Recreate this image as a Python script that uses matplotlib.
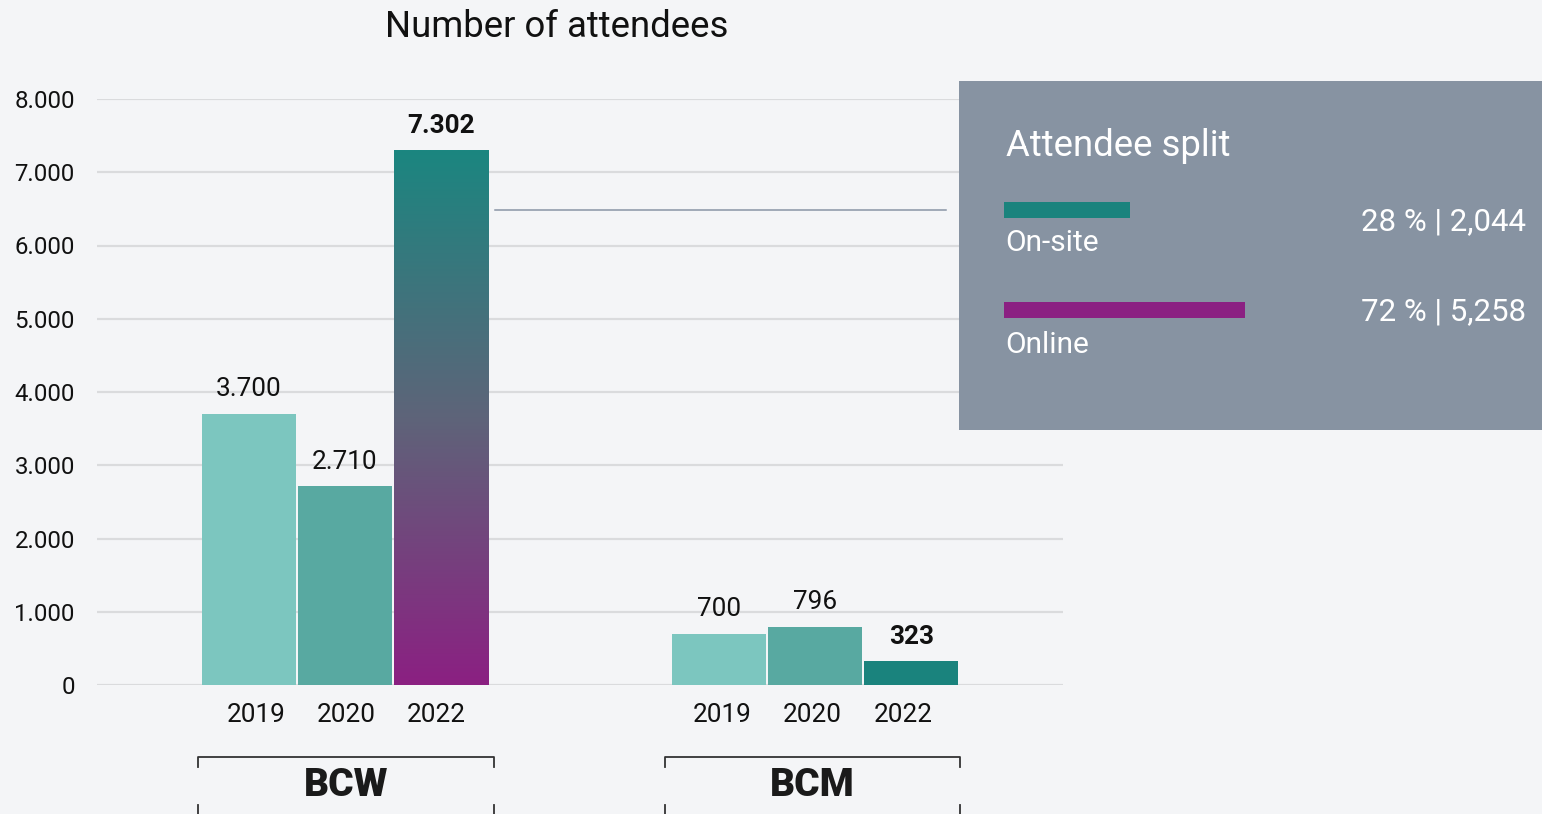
import matplotlib
matplotlib.use('Agg')
import matplotlib.pyplot as plt
import numpy as np
from matplotlib.colors import LinearSegmentedColormap
import matplotlib.transforms as mtransforms

# ---------------- data ----------------
events = ['BCW', 'BCM']
years = ['2019', '2020', '2022']
bcw_attendees = [3700, 2710, 7302]
bcm_attendees = [700, 796, 323]
y_ticks = [0, 1000, 2000, 3000, 4000, 5000, 6000, 7000, 8000]
split_labels = ['On-site', 'Online']
split_pct = [28, 72]
split_counts = [2044, 5258]
title = 'Number of attendees'
panel_title = 'Attendee split'

# ---------------- style ----------------
BG = '#F4F5F7'
GRID = '#DADBDD'
PANEL = '#8793A2'
TEAL_L = '#7CC6BF'
TEAL_M = '#58A9A1'
TEAL_D = '#1A837D'
PURPLE = '#8B2082'
plt.rcParams['font.family'] = ['Roboto', 'DejaVu Sans']

def de_fmt(v):
    return f'{v:,}'.replace(',', '.')

W, H = 1542, 814
fig = plt.figure(figsize=(W / 100, H / 100), dpi=100, facecolor=BG)
ax = fig.add_axes([97 / W, 129 / H, 966 / W, 586 / H])
ax.set_facecolor(BG)

group_centers = [0.0, 4.9]
label_shift = [0.01, -0.03]
step = 1.0
bw = 0.98
label_step = 0.94
values = [bcw_attendees, bcm_attendees]
# bar styles per event: (color or 'gradient', bold label)
styles = [
    [(TEAL_L, False), (TEAL_M, False), ('gradient', True)],
    [(TEAL_L, False), (TEAL_M, False), (TEAL_D, True)],
]
grad_cmap = LinearSegmentedColormap.from_list('g', [PURPLE, '#5E6479', '#1B8680'])

tick_pos = []
tick_lab = []
grad_bar = None
for gi, ev in enumerate(events):
    for yi, yr in enumerate(years):
        x = group_centers[gi] + (yi - 1) * step
        v = values[gi][yi]
        col, bold = styles[gi][yi]
        if col == 'gradient':
            b = ax.bar(x, v, bw, color='none', zorder=2)
            grad = np.linspace(0, 1, 256).reshape(-1, 1)
            im = ax.imshow(grad, extent=[x - bw / 2, x + bw / 2, 0, v], cmap=grad_cmap,
                           aspect='auto', origin='lower', zorder=2)
            im.set_clip_path(b[0])
            grad_bar = (x, v)
        else:
            ax.bar(x, v, bw, color=col, zorder=2)
        ax.annotate(de_fmt(v), (x, v), xytext=(0, 9), textcoords='offset points',
                    ha='center', va='bottom', fontsize=18.8,
                    fontweight='bold' if bold else 'normal', color='#111111')
        tick_pos.append(group_centers[gi] + label_shift[gi] + (yi - 1) * label_step)
        tick_lab.append(yr)

ax.set_xlim(-2.583, 7.479)
ax.set_ylim(0, 8000)
ax.set_yticks(y_ticks)
ax.set_yticklabels([de_fmt(t) for t in y_ticks], fontsize=17.3, color='#111111')
ax.set_xticks(tick_pos)
ax.set_xticklabels(tick_lab, fontsize=18.8, color='#111111')
ax.tick_params(axis='both', length=0)
ax.tick_params(axis='y', pad=16)
ax.tick_params(axis='x', pad=13)
ax.yaxis.grid(True, color=GRID, lw=1.6)
ax.set_axisbelow(True)
for s in ax.spines.values():
    s.set_visible(False)

# connector line from the highlighted bar to the panel
gx, gv = grad_bar
ax.plot([gx + bw / 2 + 0.07, 6.26], [6485, 6485], color='#8A95A6', lw=1.1,
        clip_on=False, zorder=3)

# brackets + logos under the groups
trans = mtransforms.blended_transform_factory(ax.transData, fig.transFigure)
half = 1.54
for gi, ev in enumerate(events):
    c = group_centers[gi] + label_shift[gi]
    xl, xr = c - half, c + half
    ax.plot([xl, xl, xr, xr], [1 - 767 / H, 1 - 757 / H, 1 - 757 / H, 1 - 767 / H],
            color='#333333', lw=1.3, transform=trans, clip_on=False)
    for xx in (xl, xr):
        ax.plot([xx, xx], [1 - 805 / H, 0], color='#333333', lw=1.3,
                transform=trans, clip_on=False)
    ax.text(c, 1 - 786 / H, ev, transform=trans, ha='center', va='center',
            fontsize=28, fontweight='heavy', color='#1A1A1A')

fig.text(557 / W, 1 - 27 / H, title, ha='center', va='center', fontsize=26.3,
         color='#111111')

# ---------------- side panel ----------------
px0, py0, pw, ph = 959, 81, 583, 349
lax = fig.add_axes([px0 / W, 1 - (py0 + ph) / H, pw / W, ph / H], zorder=5)
lax.set_facecolor(PANEL)
lax.set_xlim(0, pw)
lax.set_ylim(ph, 0)
lax.set_xticks([])
lax.set_yticks([])
for s in lax.spines.values():
    s.set_visible(False)

lax.text(47, 65, panel_title, ha='left', va='center', fontsize=26.3, color='white')
bar_y = [129, 229]
lab_y = [162, 264]
val_y = [141, 231]
split_cols = [TEAL_D, PURPLE]
for i, lab in enumerate(split_labels):
    length = 52.8 + 2.61 * split_pct[i]
    lax.barh(bar_y[i], length, left=45, height=16, color=split_cols[i])
    lax.text(46, lab_y[i], lab, ha='left', va='center', fontsize=21.5, color='white')
    lax.text(567, val_y[i], f'{split_pct[i]} % | {split_counts[i]:,}', ha='right',
             va='center', fontsize=22.5, color='white')

fig.savefig('out.png', dpi=100, facecolor=BG)
